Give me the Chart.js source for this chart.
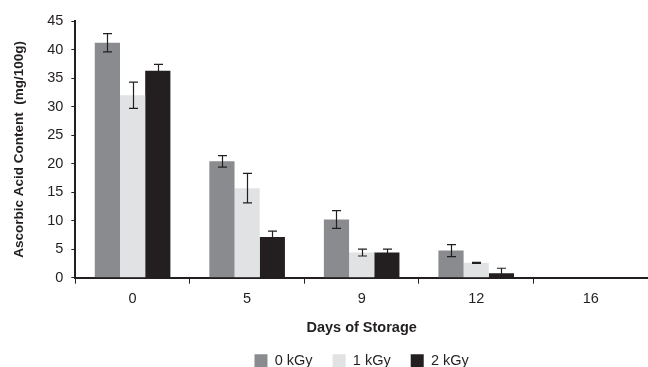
<!DOCTYPE html>
<html>
<head>
<meta charset="utf-8">
<script src="https://cdn.jsdelivr.net/npm/chart.js@4/dist/chart.umd.min.js"></script>
<style>
  html, body { margin: 0; padding: 0; background: #fff; }
  #wrap { width: 648px; height: 367px; }
</style>
</head>
<body>
<div id="wrap"><canvas id="myChart"></canvas></div>
<script>
// data
let days = ["0", "5", "9", "12", "16"];
let dose0 = [41.2, 20.4, 10.2, 4.75, 0];
let dose1 = [32.0, 15.7, 4.4, 2.6, 0];
let dose2 = [36.3, 7.15, 4.4, 0.76, 0];
let err0 = [1.6, 1.0, 1.55, 1.05, 0];
let err1 = [2.3, 2.6, 0.6, 0.1, 0];
let err2 = [1.1, 1.0, 0.6, 0.9, 0];
let yTicks = [0, 5, 10, 15, 20, 25, 30, 35, 40, 45];

let ink = "#231f20";
let fam = "Liberation Sans, Arial, sans-serif";

// draw the little error bars on top of each bar
const errorBars = {
  id: "errorBars",
  afterDatasetsDraw(chart) {
    let ctx = chart.ctx;
    let yScale = chart.scales.y;
    ctx.save();
    ctx.strokeStyle = ink;
    ctx.lineWidth = 1.2;
    chart.data.datasets.forEach(function (ds, i) {
      let meta = chart.getDatasetMeta(i);
      meta.data.forEach(function (bar, j) {
        let e = ds.errors[j];
        if (!e) return;
        let v = ds.data[j];
        let x = Math.round(bar.x) + 0.5;
        let top = yScale.getPixelForValue(v + e);
        let bot = yScale.getPixelForValue(v - e);
        ctx.beginPath();
        ctx.moveTo(x, top);
        ctx.lineTo(x, bot);
        ctx.moveTo(x - 4.5, top);
        ctx.lineTo(x + 4.5, top);
        ctx.moveTo(x - 4.5, bot);
        ctx.lineTo(x + 4.5, bot);
        ctx.stroke();
      });
    });
    ctx.restore();
  },
};

const data = {
  labels: days,
  datasets: [
    { label: "0 kGy", data: dose0, errors: err0, backgroundColor: "#8a8b8f" },
    { label: "1 kGy", data: dose1, errors: err1, backgroundColor: "#e1e2e4" },
    { label: "2 kGy", data: dose2, errors: err2, backgroundColor: ink },
  ],
};

const config = {
  type: "bar",
  data: data,
  options: {
    responsive: true,
    maintainAspectRatio: false,
    animation: false,
    layout: { padding: { top: 21, right: 0, left: 11, bottom: -11 } },
    datasets: {
      bar: { categoryPercentage: 0.66, barPercentage: 1.0, borderWidth: 0 },
    },
    plugins: {
      tooltip: { enabled: false },
      legend: {
        position: "bottom",
        fullSize: false,
        labels: {
          color: ink,
          font: { family: fam, size: 14.5 },
          boxWidth: 13,
          boxHeight: 13,
          padding: 20,
        },
      },
    },
    scales: {
      x: {
        grid: {
          offset: true,
          drawOnChartArea: false,
          drawTicks: true,
          tickLength: 6,
          color: ink,
        },
        border: { color: ink, width: 2 },
        ticks: { color: ink, font: { family: fam, size: 14.5 }, padding: 7 },
        title: {
          display: true,
          text: "Days of Storage",
          color: ink,
          font: { family: fam, size: 14.5, weight: "bold" },
          padding: { top: 4, bottom: -3 },
        },
      },
      y: {
        min: 0,
        max: 45,
        afterBuildTicks(axis) {
          axis.ticks = yTicks.map(function (v) { return { value: v }; });
        },
        grid: {
          drawOnChartArea: false,
          drawTicks: true,
          tickLength: 4,
          color: ink,
        },
        border: { color: ink, width: 2 },
        ticks: { color: ink, font: { family: fam, size: 14.5 }, padding: 8 },
        title: {
          display: true,
          text: "Ascorbic Acid Content  (mg/100g)",
          color: ink,
          font: { family: fam, size: 13.5, weight: "bold" },
          padding: { top: 0, bottom: 12 },
        },
      },
    },
  },
  plugins: [errorBars],
};

let canvasChart = document.getElementById("myChart").getContext("2d");
const myChart = new Chart(canvasChart, config);
</script>
</body>
</html>
